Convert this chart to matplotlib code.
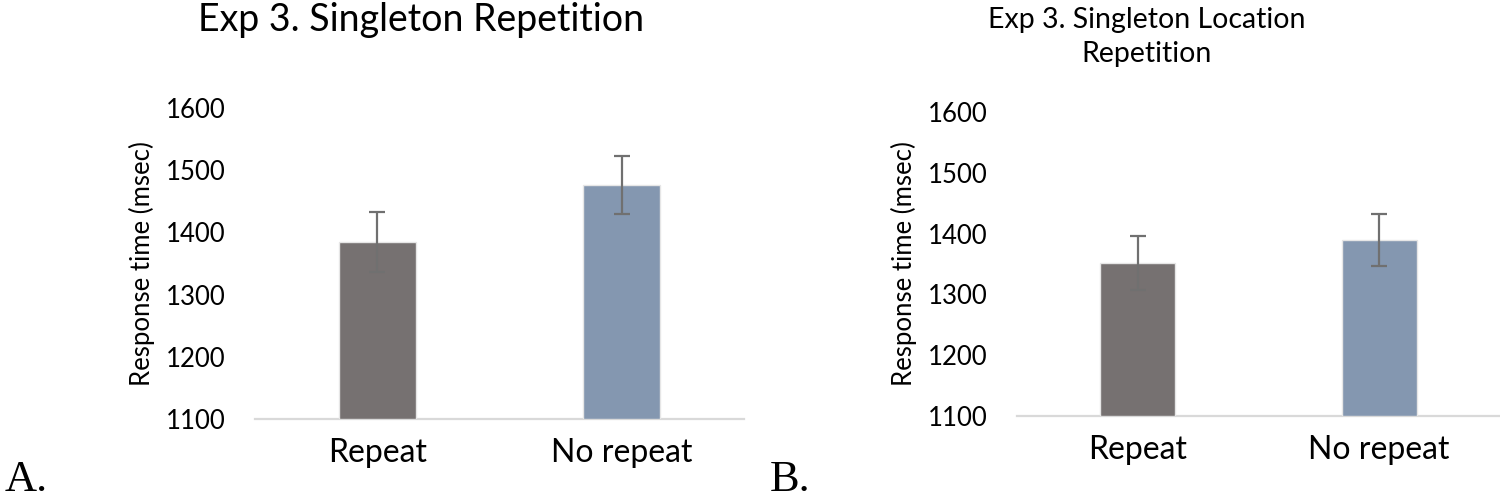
import matplotlib
matplotlib.use('Agg')
import matplotlib.pyplot as plt

plt.rcParams['font.family'] = ['Lato', 'DejaVu Sans']

conditions = ['Repeat', 'No repeat']

# Panel A: singleton repetition
rt_a  = [1385, 1476]
err_a = [48, 47]

# Panel B: singleton location repetition
rt_b  = [1352, 1390]
err_b = [44, 43]

yticks = [1100, 1200, 1300, 1400, 1500, 1600]
bar_colors = ['#767171', '#8497B0']


def draw_panel(ax, values, errs, bar_w):
    x = range(len(conditions))
    ax.bar(x, [v - 1100 for v in values], bottom=1100, width=bar_w,
           color=bar_colors, edgecolor='#e6e6e6', linewidth=1, zorder=2)
    ax.errorbar(x, values, yerr=errs, fmt='none', ecolor='#707070',
                elinewidth=1.6, capsize=6, capthick=1.6, zorder=3)
    ax.set_xlim(-0.5, 1.5)
    ax.set_ylim(1100, 1600)
    ax.set_yticks(yticks)
    ax.set_xticks(list(x))
    ax.set_xticklabels(conditions, fontsize=23)
    ax.tick_params(axis='y', length=0, labelsize=18.5, pad=21)
    ax.tick_params(axis='x', length=0, pad=14)
    for s in ['top', 'right', 'left']:
        ax.spines[s].set_visible(False)
    ax.spines['bottom'].set_color('#d9d9d9')
    ax.spines['bottom'].set_linewidth(1.6)
    ax.spines['bottom'].set_zorder(1)
    ax.set_ylabel('Response time (msec)', fontsize=18.5, labelpad=8)


fig = plt.figure(figsize=(15, 5.01), dpi=100)

ax1 = fig.add_axes([0.170, 0.1637, 0.326, 0.6208])
draw_panel(ax1, rt_a, err_a, 0.315)

ax2 = fig.add_axes([0.678, 0.1697, 0.322, 0.6067])
draw_panel(ax2, rt_b, err_b, 0.31)

fig.text(421 / 1500, 1 - 20 / 501, 'Exp 3. Singleton Repetition',
         ha='center', va='center', fontsize=27)
fig.text(1147 / 1500, 1 - 37 / 501, 'Exp 3. Singleton Location\nRepetition',
         ha='center', va='center', fontsize=20.5, linespacing=1.4)

fig.text(0.003, 0.002, 'A.', family='Liberation Serif', fontsize=32,
         ha='left', va='bottom')
fig.text(0.513, 0.002, 'B.', family='Liberation Serif', fontsize=32,
         ha='left', va='bottom')

fig.savefig('out.png', dpi=100)
